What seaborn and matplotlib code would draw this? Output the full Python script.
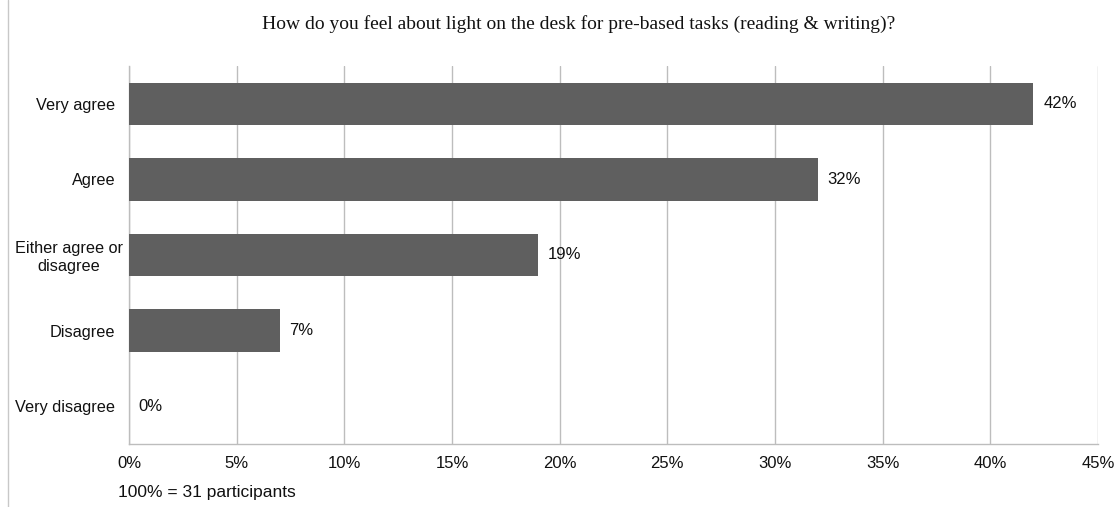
import matplotlib
matplotlib.use("Agg")
import matplotlib.pyplot as plt
import seaborn as sns
import pandas as pd
from matplotlib.lines import Line2D
from matplotlib.ticker import MultipleLocator, FuncFormatter
from matplotlib.transforms import ScaledTranslation

categories = ["Very agree", "Agree", "Either agree or\ndisagree", "Disagree", "Very disagree"]
values = [42, 32, 19, 7, 0]
title = "How do you feel about light on the desk for pre-based tasks (reading & writing)?"
note = "100% = 31 participants"

df = pd.DataFrame({"category": categories, "value": values})

sns.set_theme(style="white")
plt.rcParams["font.family"] = ["Liberation Sans", "DejaVu Sans"]

fig = plt.figure(figsize=(11.2, 5.07), dpi=100)
ax = fig.add_axes([0.1152, 0.1243, 0.8652, 0.7455])

sns.barplot(data=df, x="value", y="category", orient="h", color="#5f5f5f",
            saturation=1, width=0.56, ax=ax, linewidth=0, zorder=3)

ax.set_xlim(0, 45)
ax.xaxis.set_major_locator(MultipleLocator(5))
ax.xaxis.set_major_formatter(FuncFormatter(lambda v, p: f"{int(round(v))}%"))
ax.grid(axis="x", color="#bdbdbd", linewidth=1.0, zorder=0)
ax.grid(axis="y", visible=False)
ax.set_axisbelow(True)
for s in ["top", "right"]:
    ax.spines[s].set_visible(False)
for s in ["left", "bottom"]:
    ax.spines[s].set_color("#bdbdbd")
    ax.spines[s].set_linewidth(1.0)
ax.set_xlabel("")
ax.set_ylabel("")
ax.tick_params(axis="x", length=0, labelsize=12, colors="#111111", pad=9)
ax.tick_params(axis="y", length=0, labelsize=11.7, colors="#111111", pad=10)
for lbl in ax.get_yticklabels():
    lbl.set_horizontalalignment("right")
    lbl.set_multialignment("center")
    if "\n" in lbl.get_text():
        lbl.set_transform(lbl.get_transform() + ScaledTranslation(0.08, 0, fig.dpi_scale_trans))

for i, v in enumerate(values):
    ax.text(v + 0.45, i, f"{v}%", va="center", ha="left", fontsize=12, color="#111111")

fig.text(0.517, 0.953, title, ha="center", va="center", fontsize=14,
         family=["Liberation Serif", "DejaVu Serif"], color="#111111")
fig.text(0.105, 0.028, note, ha="left", va="center", fontsize=12.5, color="#111111")

fig.add_artist(Line2D([0.0070, 0.0070], [0, 1], transform=fig.transFigure, color="#c8c8c8", linewidth=1.0))

fig.savefig("out.png", dpi=100)
